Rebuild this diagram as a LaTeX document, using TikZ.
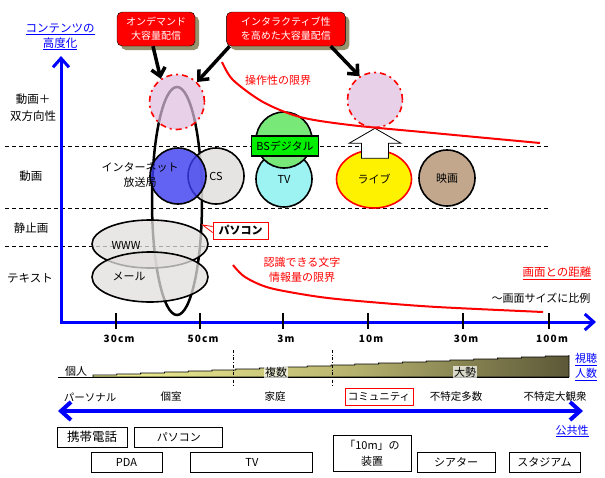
\documentclass[tikz,border=0pt]{standalone}
\usepackage{fontspec}
\setmainfont{Noto Sans CJK JP}
\usepackage{tikz}
\usetikzlibrary{arrows.meta, positioning, calc, shapes.geometric, shadows}

\definecolor{pinkfill}{RGB}{222,190,222}
\definecolor{bluefill}{RGB}{60,60,240}
\definecolor{greyfill}{RGB}{226,222,222}
\definecolor{greenfill}{RGB}{120,232,120}
\definecolor{cyanfill}{RGB}{140,240,240}
\definecolor{brownfill}{RGB}{184,152,120}
\definecolor{bsgreen}{RGB}{0,240,0}
\definecolor{shadowolive}{RGB}{150,146,110}
\definecolor{axisblue}{RGB}{0,0,255}
\definecolor{wedgeA}{RGB}{244,244,150}
\definecolor{wedgeB}{RGB}{190,186,115}
\definecolor{wedgeC}{RGB}{92,88,56}

\begin{document}
\begin{tikzpicture}[x=1pt, y=-1pt, font=\fontsize{11}{15}\selectfont,
  callout/.style={draw, rounded corners=5pt, fill=red, text=white, align=center, minimum height=34pt, font=\fontsize{10}{14}\selectfont, drop shadow={shadow xshift=4pt, shadow yshift=-4pt, fill=shadowolive, opacity=1}},
  media/.style={circle, draw, line width=1.6pt, minimum size=56pt, inner sep=0pt, fill opacity=0.85, text opacity=1},
  peak/.style={circle, draw=red, dash pattern=on 6pt off 4pt on 2pt off 4pt, line width=1.6pt, minimum size=55pt, fill=pinkfill, fill opacity=0.7},
  plate/.style={ellipse, draw, line width=1.6pt, minimum width=116pt, inner sep=0pt, fill=greyfill, fill opacity=0.75},
  rowlabel/.style={align=center, font=\fontsize{11.5}{17}\selectfont},
  limit/.style={red, line width=2pt},
  level/.style={line width=0.7pt, dash pattern=on 4pt off 3pt},
  blueaxis/.style={axisblue, line width=3pt, -{Straight Barb[length=9pt, width=16pt]}},
  pointer/.style={line width=3.5pt, -{Straight Barb[length=8pt, width=14pt]}},
  ticklabel/.style={font={\fontsize{10}{12}\bfseries\addfontfeature{LetterSpace=12}}},
  bluenote/.style={axisblue, align=center},
  devbox/.style={draw, line width=0.9pt, minimum height=20pt, inner sep=1pt},
  veil/.style={fill=white, fill opacity=0.7, text opacity=1, inner sep=1pt}]

  \useasboundingbox (0,0) rectangle (605,477);

  % levels and axes
  \foreach \y in {146,208,246}
    \draw[level] (5,\y) -- (548,\y);
  \draw[blueaxis] (61,323) -- (61,56);
  \draw[blueaxis] (60,322) -- (596,322);
  \foreach \x/\lab in {116/30cm, 200/50cm, 283/3m, 368/10m, 463/30m, 549/100m} {
    \draw[line width=2pt] (\x,313) -- (\x,329);
    \node[ticklabel] (tick\lab) at (\x+3,339) {\lab};
  }
  \node[bluenote, font=\fontsize{11.5}{15}\selectfont] (ytitle) at (60,37) {\underline{コンテンツの}\\\underline{高度化}};
  \node[rowlabel] (rowinter) at (33,108) {動画＋\\双方向性};
  \node[rowlabel] (rowvideo) at (31,176) {動画};
  \node[rowlabel] (rowstill) at (31,228) {静止画};
  \node[rowlabel] (rowtext) at (30,278) {テキスト};

  % media
  \node[ellipse, draw, line width=2.5pt, minimum width=50pt, minimum height=228pt, inner sep=0pt] (pcloop) at (177,201) {};
  \node[media, fill=greyfill] (cs) at (216,176) {CS};
  \node[media, fill=bluefill, fill opacity=0.8] (netcast) at (178,176) {};
  \node[align=center] (netcastlabel) at (140,175) {インターネット\\放送局};
  \node[media, fill=cyanfill] (tv) at (284,179) {TV};
  \node[media, fill=greenfill, fill opacity=1] (bs) at (284,140) {};
  \node[draw, fill=bsgreen, line width=1.3pt, minimum width=67pt, minimum height=20pt, inner sep=1pt] (bslabel) at (285,146) {BSデジタル};
  \node[ellipse, draw=red, line width=1.6pt, fill=yellow, minimum width=75pt, minimum height=58pt, inner sep=0pt] (live) at (374,179) {ライブ};
  \node[media, fill=brownfill] (movie) at (447,178) {映画};
  \node[peak] (peakleft) at (177,102) {};
  \node[peak] (peakright) at (375,100) {};
  \draw[fill=white, line width=0.8pt] (peakright.south) -- ++(26,15) -- ++(-12.5,0) -- ++(0,15) -- ++(-27,0) -- ++(0,-15) -- ++(-12.5,0) -- cycle;

  \node[plate, minimum height=48pt] (www) at (150,244) {};
  \node (wwwlabel) at (126,245) {WWW};
  \node[plate, minimum height=50pt] (mail) at (150,277) {};
  \node (maillabel) at (129,276) {メール};
  \node[draw=red, fill=white, line width=0.9pt, minimum width=55pt, minimum height=17pt, inner sep=1pt, font=\fontsize{11}{13}\bfseries] (pclabel) at (240.5,230.5) {パソコン};
  \draw[red, fill=white, line width=0.8pt] ($(pclabel.west)+(0,-4)$) -- (pcloop.-43) -- ($(pclabel.west)+(0,2)$);

  % limits
  \draw[limit] plot[smooth] coordinates {(222,62) (233,80) (263,102) (300,117) (350,125) (433,133) (540,143)};
  \node[red] (opslimit) at (278,80) {操作性の限界};
  \draw[limit] plot[smooth] coordinates {(233,265) (245,277) (270,288) (320,297) (370,302) (437,307) (543,312)};
  \node[red, align=center] (textlimit) at (302,270) {認識できる文字\\情報量の限界};
  \node[red, font=\fontsize{11.5}{15}\selectfont] (xtitle) at (557,273) {\underline{画面との距離}};
  \node (xnote) at (541,298) {〜画面サイズに比例};

  % callouts
  \node[callout, minimum width=78pt] (ondemand) at (156,29) {オンデマンド\\大容量配信};
  \node[callout, minimum width=119pt, right=31pt of ondemand] (interactive) {インタラクティブ性\\を高めた大容量配信};
  \draw[pointer] (ondemand.260) -- (peakleft.125);
  \draw[pointer] (interactive.197) -- (peakleft.45);
  \draw[pointer] (interactive.-21) -- (peakright.123);

  % audience
  \shade[left color=wedgeA, right color=wedgeC, middle color=wedgeB, draw=black, line width=0.8pt] (93,377)
    \foreach \i in {0,...,19} { -- ({93+23.8*\i},{375-\i}) -- ({93+23.8*(\i+1)},{375-\i}) } -- (569,355) -- (569,377) -- cycle;
  \draw[line width=0.8pt] (58,377) -- (569,377);
  \foreach \x in {233,332}
    \draw[dash dot, thin] (\x,350) -- (\x,385);
  \node (single) at (76,371) {個人};
  \node[veil] (several) at (276,372) {複数};
  \node[veil] (crowd) at (465,372) {大勢};
  \node[bluenote] (viewers) at (586,367) {\underline{視聴}\\\underline{人数}};

  \foreach \x/\name/\txt in {90/personal/パーソナル, 171/room/個室, 275/home/家庭, 456/many/不特定多数, 555/stands/不特定大観衆}
    \node[font=\fontsize{10.5}{13}\selectfont] (\name) at (\x,397) {\txt};
  \node[draw=red, thin, minimum width=68pt, minimum height=17pt, inner sep=1pt, font=\fontsize{10.5}{13}\selectfont] (community) at (379,397) {コミュニティ};
  \draw[axisblue, line width=4pt, {Straight Barb[length=10pt, width=18pt]}-{Straight Barb[length=10pt, width=18pt]}] (58,411) -- (583,411);
  \node[bluenote] (publicness) at (572,431) {\underline{公共性}};

  % devices
  \node[devbox, minimum width=70pt, font=\fontsize{12.5}{14}\selectfont] (mobile) at (92,437) {携帯電話};
  \node[devbox, minimum width=88pt, right=7pt of mobile] (pcbox) {パソコン};
  \node[devbox, minimum width=71pt] (pda) at (126.5,462) {PDA};
  \node[devbox, minimum width=122pt, right=28pt of pda] (tvbox) {TV};
  \node[devbox, minimum width=78pt, minimum height=36pt, align=center, font=\fontsize{11}{16}\selectfont] (tenm) at (372,453) {「10m」の\\装置};
  \node[devbox, minimum width=78pt] (theater) at (456,462) {シアター};
  \node[devbox, minimum width=71pt] (stadium) at (544.5,462) {スタジアム};
\end{tikzpicture}
\end{document}
